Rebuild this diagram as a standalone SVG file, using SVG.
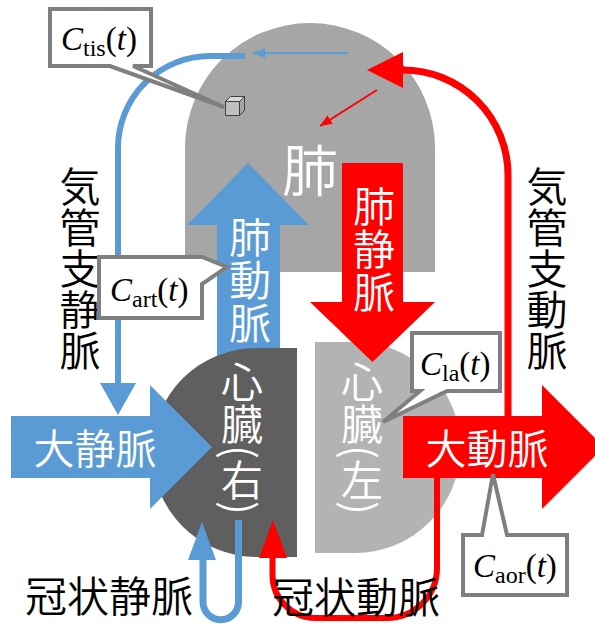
<svg xmlns="http://www.w3.org/2000/svg" width="595" height="627" viewBox="0 0 595 627">
  <style>
    .jp { font-family: "Noto Sans CJK JP", "Noto Sans CJK SC", sans-serif; font-weight: 350; }
    .vert { writing-mode: vertical-rl; }
    .white { fill: #FFFFFF; }
    .black { fill: #000000; }
    .math { font-family: "Liberation Serif", "DejaVu Serif", serif; font-size: 33px; fill: #000000; }
    .math .it { font-style: italic; }
    .math .sub { font-size: 24px; }
    .callout { fill: #FFFFFF; stroke: #7F7F7F; stroke-width: 4; stroke-linejoin: miter; }
    .blue-line { fill: none; stroke: #5B9BD5; }
    .red-line { fill: none; stroke: #FF0000; }
    .blue { fill: #5B9BD5; }
    .red { fill: #FF0000; }
  </style>
  <defs>
    <marker id="head-blue" markerUnits="userSpaceOnUse" markerWidth="12" markerHeight="10" refX="12" refY="5" orient="auto">
      <path d="M0,0 L12,5 L0,10 Z" fill="#5B9BD5"/>
    </marker>
    <marker id="head-red" markerUnits="userSpaceOnUse" markerWidth="12" markerHeight="10" refX="12" refY="5" orient="auto">
      <path d="M0,0 L12,5 L0,10 Z" fill="#FF0000"/>
    </marker>
  </defs>

  <rect width="595" height="627" fill="#FFFFFF"/>

  <!-- lung -->
  <g id="lung">
    <path d="M185,272 V148 A125,125 0 0 1 435,148 V272 Z" fill="#A6A6A6"/>
    <text class="jp white" x="310" y="191" font-size="56" text-anchor="middle">肺</text>
  </g>

  <!-- pulmonary artery (up, blue) -->
  <g id="pulmonary-artery">
    <polygon class="blue" points="248,163 309,225 280,225 280,365 217,365 217,225 187,225"/>
  </g>

  <!-- right heart -->
  <g id="heart-right">
    <path d="M297,348 V557 H256.5 A104.5,104.5 0 0 1 256.5,348 Z" fill="#5F5F5F"/>
    <text class="jp white vert" x="242" y="361" font-size="42">心臓(右)</text>
  </g>

  <!-- left heart -->
  <g id="heart-left">
    <path d="M315,342 H355 A105.5,105.5 0 0 1 355,553 H315 Z" fill="#B3B3B3"/>
    <text class="jp white vert" x="362" y="361" font-size="42">心臓(左)</text>
  </g>

  <g id="pulmonary-artery-label">
    <text class="jp white vert" x="250" y="216" font-size="42" letter-spacing="1">肺動脈</text>
  </g>

  <!-- pulmonary vein (down, red) -->
  <g id="pulmonary-vein">
    <polygon class="red" points="342,163 403,163 403,302 435,302 372.5,362 310,302 342,302"/>
    <text class="jp white vert" x="374" y="185" font-size="42" letter-spacing="1">肺静脈</text>
  </g>

  <!-- vena cava (right, blue) -->
  <g id="vena-cava">
    <polygon class="blue" points="11,416 150,416 150,385 212,447 150,509 150,478 11,478"/>
    <text class="jp white" x="95" y="464" font-size="41" text-anchor="middle">大静脈</text>
  </g>

  <!-- aorta (right, red) -->
  <g id="aorta">
    <polygon class="red" points="403,416 542,416 542,385 604,447 542,509 542,478 403,478"/>
    <text class="jp white" x="487" y="464" font-size="41" text-anchor="middle">大動脈</text>
  </g>

  <!-- connectors -->
  <g id="connectors">
    <!-- bronchial vein: lung back to vena cava -->
    <path class="blue-line" stroke-width="6" d="M245,56 H210 A92,92 0 0 0 118,148 V386"/>
    <polygon class="blue" points="100,383 136,383 118,415"/>
    <line class="blue-line" stroke-width="2" x1="348" y1="53" x2="253" y2="53" marker-end="url(#head-blue)"/>
    <!-- bronchial artery: aorta up into lung -->
    <path class="red-line" stroke-width="7" d="M508,417 V175 A105,105 0 0 0 403,70 H400"/>
    <polygon class="red" points="367,70 403,52 403,88"/>
    <line class="red-line" stroke-width="2" x1="377" y1="90" x2="320" y2="126" marker-end="url(#head-red)"/>
    <!-- coronary vein -->
    <path class="blue-line" stroke-width="7" d="M238.5,520 V602 A17.75,17.75 0 0 1 203,602 V556"/>
    <polygon class="blue" points="202,522 188,560 216,560"/>
    <!-- coronary artery -->
    <path class="red-line" stroke-width="6" d="M437,478 V568 A50,50 0 0 1 387,618 H315 A43,43 0 0 1 272.5,575 V554"/>
    <polygon class="red" points="273,520 259,558 287,558"/>
  </g>

  <!-- tissue element -->
  <g id="tissue-cube" stroke="#404040" stroke-width="1" stroke-linejoin="round">
    <polygon points="225.5,101.5 230.5,96.5 244.5,96.5 239.5,101.5" fill="#D9D9D9"/>
    <polygon points="239.5,101.5 244.5,96.5 244.5,110.5 239.5,115.5" fill="#A6A6A6"/>
    <rect x="225.5" y="101.5" width="14" height="14" fill="#BFBFBF"/>
  </g>

  <!-- vessel names -->
  <g id="label-bronchial-vein">
    <text class="jp black vert" x="80" y="166" font-size="41">気管支静脈</text>
  </g>
  <g id="label-bronchial-artery">
    <text class="jp black vert" x="547" y="166" font-size="41">気管支動脈</text>
  </g>
  <g id="label-coronary-vein">
    <text class="jp black" x="109" y="612" font-size="42" text-anchor="middle">冠状静脈</text>
  </g>
  <g id="label-coronary-artery">
    <text class="jp black" x="356" y="613" font-size="42" text-anchor="middle">冠状動脈</text>
  </g>

  <!-- concentration callouts -->
  <g id="callout-tis">
    <path class="callout" d="M50,9 H151 V66 H133 L224,107 L110,66 H50 Z"/>
    <text class="math" x="61" y="50"><tspan class="it">C</tspan><tspan class="sub" dy="6">tis</tspan><tspan dy="-6">(</tspan><tspan class="it">t</tspan>)</text>
  </g>
  <g id="callout-art">
    <path class="callout" d="M99,257 H202 L227,267 L202,284 V318 H99 Z"/>
    <text class="math" x="110" y="301"><tspan class="it">C</tspan><tspan class="sub" dy="6">art</tspan><tspan dy="-6">(</tspan><tspan class="it">t</tspan>)</text>
  </g>
  <g id="callout-la">
    <path class="callout" d="M412,333 H500 V391 H447 L383,422 L420,391 H412 Z"/>
    <text class="math" x="420" y="375"><tspan class="it">C</tspan><tspan class="sub" dy="6">la</tspan><tspan dy="-6">(</tspan><tspan class="it">t</tspan>)</text>
  </g>
  <g id="callout-aor">
    <path class="callout" d="M463,535 H482 L493,474 L507,535 H567 V595 H463 Z"/>
    <text class="math" x="473" y="577"><tspan class="it">C</tspan><tspan class="sub" dy="6">aor</tspan><tspan dy="-6">(</tspan><tspan class="it">t</tspan>)</text>
  </g>
</svg>
